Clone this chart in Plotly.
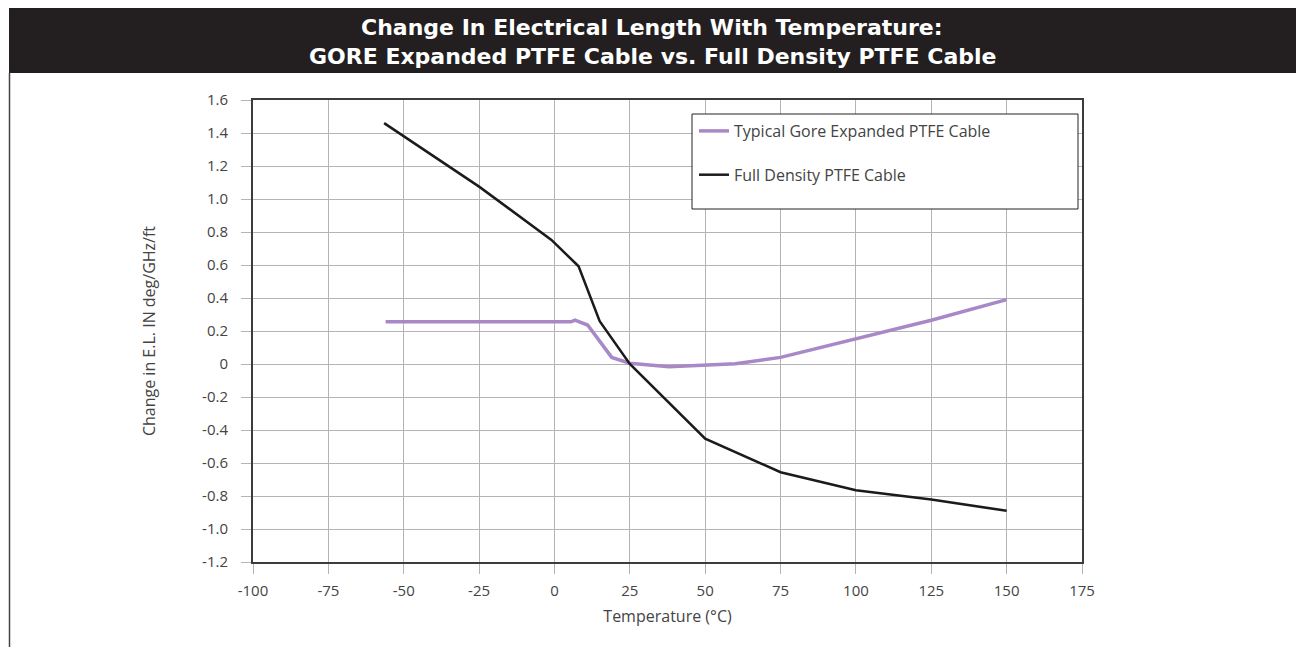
import plotly.graph_objects as go

# Data
gore_temp = [-56, 5.5, 6.8, 11, 19, 25, 38, 50, 60, 75, 100, 125, 150]
gore_val = [0.256, 0.256, 0.266, 0.236, 0.04, 0.005, -0.016, -0.008, 0.002, 0.04, 0.15, 0.265, 0.39]

full_temp = [-56.5, -25, -1, 8, 15, 25, 50, 75, 100, 125, 150]
full_val = [1.46, 1.075, 0.752, 0.592, 0.26, 0.0, -0.452, -0.656, -0.765, -0.821, -0.89]

x_ticks = [-100, -75, -50, -25, 0, 25, 50, 75, 100, 125, 150, 175]
x_tick_text = ["-100", "-75", "-50", "-25", "0", "25", "50", "75", "100", "125", "150", "175"]
y_ticks = [1.6, 1.4, 1.2, 1.0, 0.8, 0.6, 0.4, 0.2, 0, -0.2, -0.4, -0.6, -0.8, -1.0, -1.2]
y_tick_text = ["1.6", "1.4", "1.2", "1.0", "0.8", "0.6", "0.4", "0.2", "0",
               "-0.2", "-0.4", "-0.6", "-0.8", "-1.0", "-1.2"]

title_lines = ["Change In Electrical Length With Temperature:",
               "GORE Expanded PTFE Cable vs. Full Density PTFE Cable"]

# page has an 8px body margin; work in screen pixels and convert
OFF = 8
W, H = 1304 - OFF, 647 - OFF
L, R, T, B = 253, 1082, 100, 562   # screen pixels of the plot area


def px(xs):
    return (xs - L) / (R - L)


def py(ys):
    return (B - ys) / (B - T)


FONT = "Open Sans"
TXT = "#444444"

fig = go.Figure()
fig.add_trace(go.Scatter(
    x=gore_temp, y=gore_val, mode="lines", name="Typical Gore Expanded PTFE Cable",
    line=dict(color="#a888c6", width=3.5), legendgroup="a"))
fig.add_trace(go.Scatter(
    x=full_temp, y=full_val, mode="lines", name="Full Density PTFE Cable",
    line=dict(color="#1c1a1a", width=2.5), legendgroup="b"))

shapes = [
    # title bar
    dict(type="rect", xref="paper", yref="paper", x0=px(9), x1=px(1310), y0=py(73), y1=py(5),
         fillcolor="#231f20", line=dict(width=0), layer="below"),
    # frame sides
    dict(type="line", xref="paper", yref="paper", x0=px(9.5), x1=px(9.5), y0=py(73), y1=py(650),
         line=dict(color="#444444", width=1.5)),
    dict(type="line", xref="paper", yref="paper", x0=px(1303.5), x1=px(1303.5), y0=py(73), y1=py(650),
         line=dict(color="#888888", width=1)),
    # legend box
    dict(type="rect", xref="paper", yref="paper", x0=px(692), x1=px(1078), y0=py(209), y1=py(114),
         fillcolor="white", line=dict(color="#222222", width=1), layer="above"),
]

TF = dict(family="DejaVu Sans", size=22, color="white", weight="bold")
annotations = [
    dict(text=title_lines[0], xref="paper", yref="paper", x=px(652), y=py(27),
         showarrow=False, font=TF, xanchor="center", yanchor="middle"),
    dict(text=title_lines[1], xref="paper", yref="paper", x=px(652), y=py(57),
         showarrow=False, font=TF, xanchor="center", yanchor="middle"),
]

fig.update_layout(
    width=W, height=H,
    margin=dict(l=L - OFF, r=W - (R - OFF), t=T - OFF, b=H - (B - OFF), pad=0),
    paper_bgcolor="white", plot_bgcolor="white",
    shapes=shapes, annotations=annotations,
    showlegend=True,
    legend=dict(x=px(694), y=py(114), xanchor="left", yanchor="top",
                bgcolor="rgba(0,0,0,0)", borderwidth=0,
                font=dict(family=FONT, size=16, color=TXT),
                tracegroupgap=20, itemwidth=30, traceorder="grouped"),
    xaxis=dict(range=[-100, 175], tickvals=x_ticks, ticktext=x_tick_text,
               showgrid=True, gridcolor="#b4b4b4", gridwidth=1,
               zeroline=False, showline=True, linecolor="#3c3c3c", linewidth=2, mirror=True,
               ticks="outside", ticklen=10, tickcolor="#b4b4b4", tickwidth=1,
               tickfont=dict(family=FONT, size=15, color=TXT), ticklabelstandoff=4,
               title=dict(text="Temperature (°C)", font=dict(family=FONT, size=16, color=TXT), standoff=12)),
    yaxis=dict(range=[-1.2, 1.6], tickvals=y_ticks, ticktext=y_tick_text, showgrid=True,
               gridcolor="#b4b4b4", gridwidth=1,
               zeroline=False, showline=True, linecolor="#3c3c3c", linewidth=2, mirror=True,
               ticks="outside", ticklen=10, tickcolor="#b4b4b4", tickwidth=1,
               tickfont=dict(family=FONT, size=15, color=TXT), ticklabelstandoff=10,
               title=dict(text="Change in E.L. IN deg/GHz/ft", font=dict(family=FONT, size=16, color=TXT),
                          standoff=42)),
)

fig.write_html("out.html")
